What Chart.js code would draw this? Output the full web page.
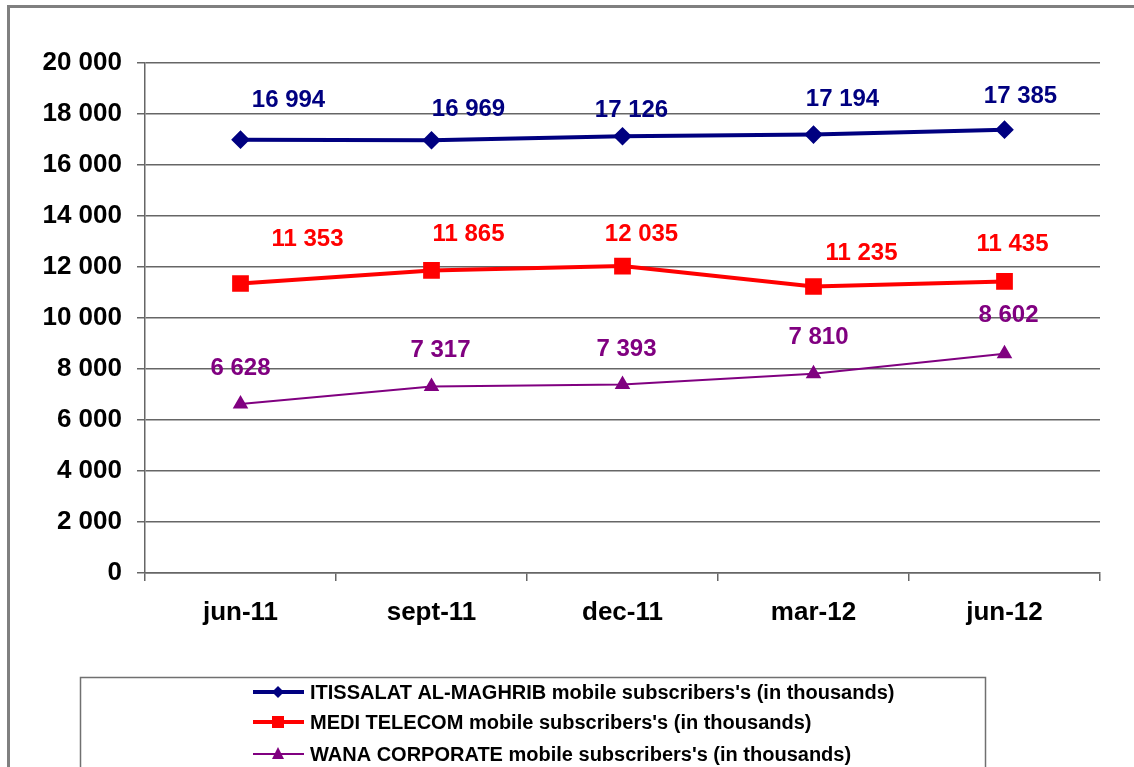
<!DOCTYPE html>
<html>
<head>
<meta charset="utf-8">
<script src="https://cdn.jsdelivr.net/npm/chart.js@4/dist/chart.umd.min.js"></script>
<style>
  html, body { margin: 0; padding: 0; background: #fff; }
  #wrap { width: 1134px; height: 767px; position: relative; }
</style>
</head>
<body>
<div id="wrap"><canvas id="subsChart"></canvas></div>
<script>
const periods = ["jun-11", "sept-11", "dec-11", "mar-12", "jun-12"];
const iamValues = [16994, 16969, 17126, 17194, 17385];
const mediValues = [11353, 11865, 12035, 11235, 11435];
const wanaValues = [6628, 7317, 7393, 7810, 8602];
const yTicks = [0, 2000, 4000, 6000, 8000, 10000, 12000, 14000, 16000, 18000, 20000];

const seriesNames = [
  "ITISSALAT AL-MAGHRIB mobile subscribers's (in thousands)",
  "MEDI TELECOM mobile subscribers's (in thousands)",
  "WANA CORPORATE mobile subscribers's (in thousands)"
];

// label nudges (px) as placed in the original sheet, per series/point
const labelShift = [
  [[48, -39], [37, -31], [9, -26], [29, -35], [16, -33]],
  [[67, -44], [37, -36], [19, -32], [48, -33], [8, -37]],
  [[0, -36], [9, -36], [4, -35], [5, -36], [4, -38]]
];

const fmt = v => String(v).replace(/\B(?=(\d{3})+(?!\d))/g, " ");
const FONT = "'Liberation Sans', Arial, sans-serif";

const framePlugin = {
  id: "frame",
  beforeDraw(chart) {
    const c = chart.ctx;
    c.save();
    c.fillStyle = "#fff";
    c.fillRect(0, 0, chart.width, chart.height);
    c.strokeStyle = "#808080";
    c.lineWidth = 3;
    c.strokeRect(8.5, 6.5, chart.width + 20, chart.height + 20);
    c.restore();
  }
};

const valueLabels = {
  id: "valueLabels",
  afterDatasetsDraw(chart) {
    const c = chart.ctx;
    c.save();
    c.font = "bold 24px " + FONT;
    c.textAlign = "center";
    c.textBaseline = "middle";
    chart.data.datasets.forEach((ds, i) => {
      const meta = chart.getDatasetMeta(i);
      c.fillStyle = ds.borderColor;
      meta.data.forEach((pt, j) => {
        const s = labelShift[i][j];
        c.fillText(fmt(ds.data[j]), pt.x + s[0], pt.y + s[1]);
      });
    });
    c.restore();
  }
};

const boxLegend = {
  id: "boxLegend",
  afterDraw(chart) {
    const c = chart.ctx;
    c.save();
    c.strokeStyle = "#707070";
    c.lineWidth = 1.5;
    c.strokeRect(80.5, 677.5, 905, 120);
    const rows = [692, 722, 754];
    c.font = "bold 20px " + FONT;
    c.textBaseline = "middle";
    c.textAlign = "left";
    chart.data.datasets.forEach((ds, i) => {
      const y = rows[i];
      c.strokeStyle = ds.borderColor;
      c.lineWidth = ds.borderWidth;
      c.beginPath();
      c.moveTo(253, y);
      c.lineTo(304, y);
      c.stroke();
      c.fillStyle = ds.borderColor;
      c.beginPath();
      if (ds.pointStyle === "rectRot") {
        c.moveTo(278, y - 6); c.lineTo(284, y); c.lineTo(278, y + 6); c.lineTo(272, y);
      } else if (ds.pointStyle === "rect") {
        c.rect(272, y - 6, 12, 12);
      } else {
        c.moveTo(278, y - 7); c.lineTo(284, y + 5); c.lineTo(272, y + 5);
      }
      c.closePath();
      c.fill();
      c.fillStyle = "#000";
      c.fillText(seriesNames[i], 310, y + 1);
    });
    c.restore();
  }
};

const ctx = document.getElementById("subsChart").getContext("2d");
new Chart(ctx, {
  type: "line",
  data: {
    labels: periods,
    datasets: [
      {
        label: seriesNames[0],
        data: iamValues,
        borderColor: "#000080",
        backgroundColor: "#000080",
        borderWidth: 4,
        pointStyle: "rectRot",
        pointRadius: 6.5,
        pointHoverRadius: 6.5,
        tension: 0
      },
      {
        label: seriesNames[1],
        data: mediValues,
        borderColor: "#FF0000",
        backgroundColor: "#FF0000",
        borderWidth: 4,
        pointStyle: "rect",
        pointRadius: 9,
        pointHoverRadius: 9,
        tension: 0
      },
      {
        label: seriesNames[2],
        data: wanaValues,
        borderColor: "#800080",
        backgroundColor: "#800080",
        borderWidth: 2,
        pointStyle: "triangle",
        pointRadius: 7,
        pointHoverRadius: 7,
        tension: 0
      }
    ]
  },
  options: {
    responsive: true,
    maintainAspectRatio: false,
    animation: false,
    layout: { padding: { left: 0, right: 34, top: 63, bottom: 0 } },
    plugins: {
      legend: { display: false },
      tooltip: { enabled: false }
    },
    scales: {
      x: {
        offset: true,
        grid: { offset: true, drawOnChartArea: false, drawTicks: true, tickLength: 8, color: "#666", lineWidth: 1.5 },
        border: { color: "#666", width: 1.5 },
        ticks: { color: "#000", font: { family: FONT, size: 26, weight: "bold" }, padding: 16 },
        afterFit: s => { s.height = 194; }
      },
      y: {
        min: 0,
        max: 20000,
        afterBuildTicks: s => { s.ticks = yTicks.map(v => ({ value: v })); },
        grid: { color: "#666", lineWidth: 1.5, tickLength: 8 },
        border: { color: "#666", width: 1.5 },
        ticks: { color: "#000", font: { family: FONT, size: 26, weight: "bold" }, padding: 15, callback: v => fmt(v) },
        afterFit: s => { s.width = 145; }
      }
    }
  },
  plugins: [framePlugin, valueLabels, boxLegend]
});
</script>
</body>
</html>
